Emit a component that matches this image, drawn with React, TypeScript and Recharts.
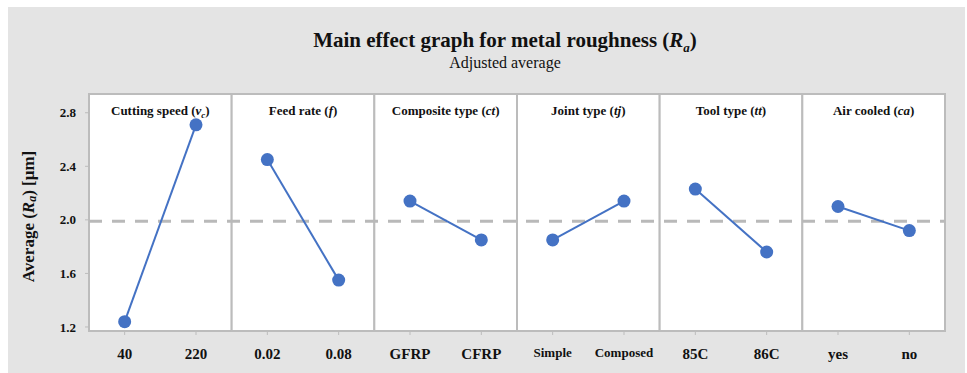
import { LineChart, Line, XAxis, YAxis, ReferenceArea, ReferenceLine, Label } from 'recharts'

// main effects per factor (two levels each)
const factorNames = ['Cutting speed', 'Feed rate', 'Composite type', 'Joint type', 'Tool type', 'Air cooled']
const factorSymbols = ['v', 'f', 'ct', 'tj', 'tt', 'ca']
const factorSubs = ['c', '', '', '', '', '']
const levels = [
  ['40', '220'],
  ['0.02', '0.08'],
  ['GFRP', 'CFRP'],
  ['Simple', 'Composed'],
  ['85C', '86C'],
  ['yes', 'no'],
]
const means = [
  [1.24, 2.71],
  [2.45, 1.55],
  [2.14, 1.85],
  [1.85, 2.14],
  [2.23, 1.76],
  [2.10, 1.92],
]
const overallMean = 1.99
const yTicks = [1.2, 1.6, 2.0, 2.4, 2.8]
const yDomain = [1.17, 2.94]

const SERIF = "'Liberation Serif', 'Times New Roman', serif"
const BLUE = '#4472C4'
const FRAME = '#bcbcbc'

// one row per level; only the owning factor gets a value
const rows = levels.flatMap((lv, i) =>
  lv.map((name, j) => {
    const row: Record<string, any> = { level: name }
    row[`f${i}`] = means[i][j]
    return row
  })
)

const PanelTitle = ({ viewBox, idx }: any) => {
  if (!viewBox) return null
  const { x, y, width } = viewBox
  const sub = factorSubs[idx]
  return (
    <text x={x + width / 2} y={y + 21} textAnchor="middle" fontFamily={SERIF} fontWeight="bold" fontSize={13} fill="#111">
      {factorNames[idx]} (
      <tspan fontStyle="italic">{factorSymbols[idx]}</tspan>
      {sub ? <tspan fontStyle="italic" fontSize={9} dy={3}>{sub}</tspan> : null}
      <tspan dy={sub ? -3 : 0}>)</tspan>
    </text>
  )
}

const YTitle = ({ viewBox }: any) => {
  if (!viewBox) return null
  const cx = 28
  const cy = viewBox.y + viewBox.height / 2 + 4
  return (
    <text x={cx} y={cy} transform={`rotate(-90 ${cx} ${cy})`} textAnchor="middle" dominantBaseline="central"
      fontFamily={SERIF} fontWeight="bold" fontSize={17} fill="#111">
      Average (<tspan fontStyle="italic">R</tspan>
      <tspan fontStyle="italic" fontSize={12} dy={4}>a</tspan>
      <tspan dy={-4}>) [μm]</tspan>
    </text>
  )
}

const XTick = ({ x, y, payload }: any) => {
  const long = String(payload.value).length > 4
  return (
    <text x={x} y={y} dy="0.71em" textAnchor="middle" fontFamily={SERIF} fontWeight="bold"
      fontSize={long ? 13 : 15} fill="#111">
      {payload.value}
    </text>
  )
}

export default function App() {
  return (
    <div style={{ position: 'relative', width: 967, height: 373, background: '#fff', overflow: 'hidden' }}>
      <style>{'body{margin:0}'}</style>
      <div style={{ position: 'absolute', left: 8, top: 7, width: 957, height: 380, background: '#e4e4e4' }} />
      <div style={{ position: 'absolute', left: 0, width: 1010, top: 28, textAlign: 'center', fontFamily: SERIF, fontWeight: 'bold', fontSize: 21, color: '#111' }}>
        Main effect graph for metal roughness (<i>R</i><sub style={{ fontStyle: 'italic', fontSize: 13 }}>a</sub>)
      </div>
      <div style={{ position: 'absolute', left: 0, width: 1010, top: 54, textAlign: 'center', fontFamily: SERIF, fontSize: 16, color: '#111' }}>
        Adjusted average
      </div>
      <div style={{ position: 'absolute', left: 0, top: 0 }}>
        <LineChart width={967} height={373} data={rows} margin={{ top: 94, right: 22, left: 29, bottom: 12 }}>
          {levels.map((lv, i) => (
            <ReferenceArea key={`p${i}`} x1={lv[0]} x2={lv[1]} fill="#fff" fillOpacity={1}
              stroke={FRAME} strokeWidth={2} label={<PanelTitle idx={i} />} />
          ))}
          <XAxis dataKey="level" scale="band" tick={<XTick />} tickLine={{ stroke: FRAME }}
            axisLine={false} tickSize={4} tickMargin={13} height={30} interval={0} />
          <YAxis domain={yDomain} ticks={yTicks} width={60} axisLine={false}
            tickLine={{ stroke: FRAME }} tickSize={4} tickMargin={9}
            tickFormatter={(v: number) => v.toFixed(1)}
            tick={{ fontFamily: SERIF, fontWeight: 'bold', fontSize: 13, fill: '#111' }}>
            <Label content={<YTitle />} />
          </YAxis>
          <ReferenceLine y={overallMean} stroke="#b9b9b9" strokeWidth={3} strokeDasharray="13 10" />
          {levels.map((_, i) => (
            <Line key={`f${i}`} dataKey={`f${i}`} stroke={BLUE} strokeWidth={2}
              dot={{ r: 6.5, fill: BLUE, stroke: 'none' }} activeDot={false}
              isAnimationActive={false} connectNulls={false} />
          ))}
        </LineChart>
      </div>
    </div>
  )
}
